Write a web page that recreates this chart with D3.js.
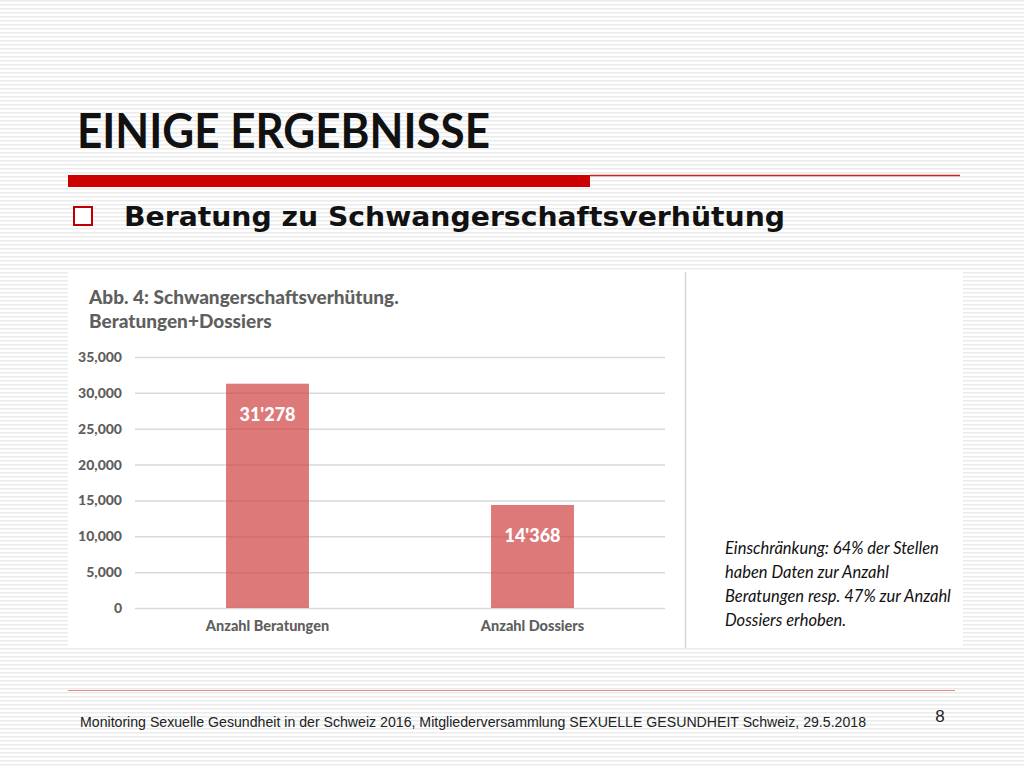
<!DOCTYPE html>
<html>
<head>
<meta charset="utf-8">
<script src="https://cdn.jsdelivr.net/npm/d3@7"></script>
<style>
  body { margin: 0; background: #fff; }
  svg { display: block; }
</style>
</head>
<body>
<div id="slide"></div>
<script>
// chart data
const categories = ["Anzahl Beratungen", "Anzahl Dossiers"];
const values = [31278, 14368];
const valueLabels = ["31'278", "14'368"];
const yTicks = [0, 5000, 10000, 15000, 20000, 25000, 30000, 35000];
const noteLines = [
  "Einschränkung: 64% der Stellen",
  "haben Daten zur Anzahl",
  "Beratungen resp. 47% zur Anzahl",
  "Dossiers erhoben."
];

const W = 1024, H = 768;

const svg = d3.select("#slide")
  .append("svg")
  .attr("width", W)
  .attr("height", H);

// striped slide background
const defs = svg.append("defs");
const pat = defs.append("pattern")
  .attr("id", "stripes")
  .attr("width", 4)
  .attr("height", 4)
  .attr("patternUnits", "userSpaceOnUse");
pat.append("rect").attr("width", 4).attr("height", 4).attr("fill", "#ffffff");
pat.append("rect").attr("y", 0).attr("width", 4).attr("height", 1.5).attr("fill", "#ebebeb");

svg.append("rect")
  .attr("width", W)
  .attr("height", H)
  .attr("fill", "url(#stripes)");

// slide title
svg.append("text")
  .attr("x", 77)
  .attr("y", 148)
  .attr("font-family", "Lato, 'Open Sans', sans-serif")
  .attr("font-size", 47)
  .attr("font-weight", "bold")
  .attr("textLength", 413)
  .attr("lengthAdjust", "spacingAndGlyphs")
  .attr("fill", "#111")
  .text("EINIGE ERGEBNISSE");

// red rule under title
svg.append("rect")
  .attr("x", 68).attr("y", 175)
  .attr("width", 522).attr("height", 12)
  .attr("fill", "#cc0000");
svg.append("line")
  .attr("x1", 590).attr("x2", 960)
  .attr("y1", 175.5).attr("y2", 175.5)
  .attr("stroke", "#cc2222")
  .attr("stroke-width", 1.5);

// bullet
svg.append("rect")
  .attr("x", 74).attr("y", 207)
  .attr("width", 18).attr("height", 18)
  .attr("fill", "#fff")
  .attr("stroke", "#c00000")
  .attr("stroke-width", 2);

svg.append("text")
  .attr("x", 124)
  .attr("y", 226)
  .attr("font-family", "'DejaVu Sans', Verdana, sans-serif")
  .attr("font-size", 27)
  .attr("font-weight", "bold")
  .attr("textLength", 661)
  .attr("lengthAdjust", "spacingAndGlyphs")
  .attr("fill", "#111")
  .text("Beratung zu Schwangerschaftsverhütung");

// picture panels
svg.append("rect")
  .attr("x", 68).attr("y", 270)
  .attr("width", 617).attr("height", 378)
  .attr("fill", "#fff");
svg.append("rect")
  .attr("x", 686).attr("y", 270)
  .attr("width", 277).attr("height", 378)
  .attr("fill", "#fff");
svg.append("line")
  .attr("x1", 685.5).attr("x2", 685.5)
  .attr("y1", 272).attr("y2", 648)
  .attr("stroke", "#d6d6d6")
  .attr("stroke-width", 1.5);

// chart title
const chartFont = "Lato, 'Open Sans', sans-serif";
svg.append("text")
  .attr("x", 89).attr("y", 304)
  .attr("font-family", chartFont)
  .attr("font-size", 19)
  .attr("font-weight", 900)
  .attr("fill", "#5f5f5f")
  .text("Abb. 4: Schwangerschaftsverhütung.");
svg.append("text")
  .attr("x", 89).attr("y", 328)
  .attr("font-family", chartFont)
  .attr("font-size", 19)
  .attr("font-weight", 900)
  .attr("fill", "#5f5f5f")
  .text("Beratungen+Dossiers");

// scales
const x = d3.scaleBand()
  .domain(categories)
  .range([135, 665])
  .paddingInner(0.687)
  .paddingOuter(0.3435);

const y = d3.scaleLinear()
  .domain([0, 35000])
  .range([608, 357]);

// gridlines
svg.append("g")
  .attr("transform", "translate(135,0)")
  .call(d3.axisLeft(y).tickValues(yTicks).tickSize(-530).tickFormat(""))
  .call(g => g.select(".domain").remove())
  .call(g => g.selectAll("line").attr("stroke", "#d9d9d9").attr("stroke-width", 1.5));

// y labels
svg.append("g")
  .attr("transform", "translate(122,0)")
  .call(d3.axisLeft(y).tickValues(yTicks).tickSize(0).tickPadding(0).tickFormat(d3.format(",")))
  .call(g => g.select(".domain").remove())
  .call(g => g.selectAll("text")
    .attr("font-family", chartFont)
    .attr("font-size", 14)
    .attr("font-weight", 900)
    .attr("fill", "#5f5f5f"));

// bars
svg.selectAll(".bar")
  .data(values)
  .enter().append("rect")
  .attr("class", "bar")
  .attr("x", (d, i) => x(categories[i]))
  .attr("y", d => y(d))
  .attr("width", x.bandwidth())
  .attr("height", d => y(0) - y(d))
  .attr("fill", "#d04040")
  .attr("fill-opacity", 0.7);

// value labels inside bars
svg.selectAll(".val")
  .data(values)
  .enter().append("text")
  .attr("class", "val")
  .attr("x", (d, i) => x(categories[i]) + x.bandwidth() / 2)
  .attr("y", d => y(d) + 37)
  .attr("text-anchor", "middle")
  .attr("font-family", chartFont)
  .attr("font-size", 18)
  .attr("font-weight", 900)
  .attr("fill", "#fff")
  .text((d, i) => valueLabels[i]);

// category axis
svg.append("g")
  .attr("transform", "translate(0,621)")
  .call(d3.axisBottom(x).tickSize(0).tickPadding(0))
  .call(g => g.select(".domain").remove())
  .call(g => g.selectAll("text")
    .attr("dy", "0.71em")
    .attr("font-family", chartFont)
    .attr("font-size", 14.5)
    .attr("font-weight", 900)
    .attr("fill", "#5f5f5f"));

// note text on the right
svg.append("g")
  .selectAll("text")
  .data(noteLines)
  .enter().append("text")
  .attr("x", 725)
  .attr("y", (d, i) => 554 + i * 24)
  .attr("font-family", chartFont)
  .attr("font-size", 16.5)
  .attr("font-style", "italic")
  .attr("font-weight", "normal")
  .attr("fill", "#111")
  .text(d => d);

// footer
svg.append("line")
  .attr("x1", 68).attr("x2", 955)
  .attr("y1", 690.5).attr("y2", 690.5)
  .attr("stroke", "#e08a8a")
  .attr("stroke-width", 1.2);

svg.append("text")
  .attr("x", 80).attr("y", 727)
  .attr("font-family", "'Liberation Sans', Arial, sans-serif")
  .attr("font-size", 14)
  .attr("textLength", 786)
  .attr("lengthAdjust", "spacingAndGlyphs")
  .attr("fill", "#222")
  .text("Monitoring Sexuelle Gesundheit in der Schweiz 2016, Mitgliederversammlung SEXUELLE GESUNDHEIT Schweiz, 29.5.2018");

svg.append("text")
  .attr("x", 940).attr("y", 722)
  .attr("text-anchor", "middle")
  .attr("font-family", "'Liberation Sans', Arial, sans-serif")
  .attr("font-size", 17)
  .attr("fill", "#222")
  .text("8");
</script>
</body>
</html>
